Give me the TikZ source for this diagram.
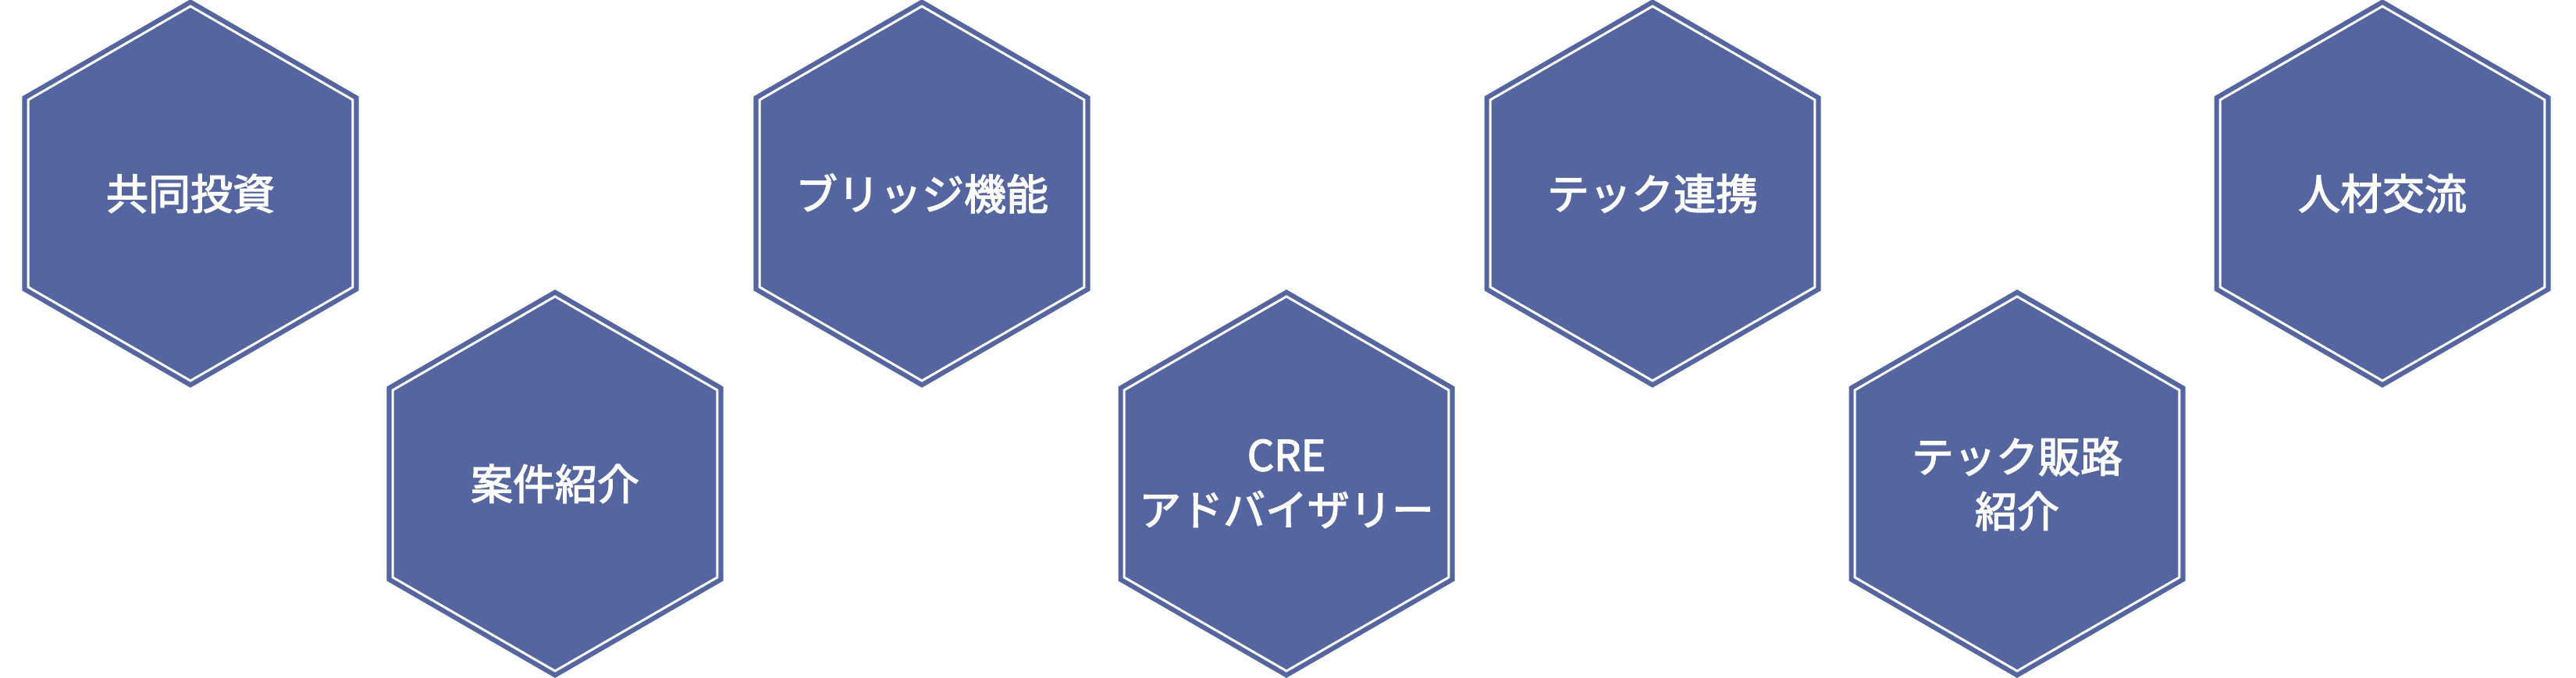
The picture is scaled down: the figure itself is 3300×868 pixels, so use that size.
\documentclass[tikz,border=0pt]{standalone}
\usepackage{fontspec}
\newfontfamily\cjk{Noto Sans CJK JP}[FakeBold=2.5]
\definecolor{hexblue}{HTML}{5565A0}
\newcommand{\hexpath}[3]{(#1,#2-#3) -- (#1+0.866*#3,#2-0.5*#3) -- (#1+0.866*#3,#2+0.5*#3) -- (#1,#2+#3) -- (#1-0.866*#3,#2+0.5*#3) -- (#1-0.866*#3,#2-0.5*#3) -- cycle}
\newcommand{\hexat}[4]{%
  \fill[hexblue,draw=hexblue,line width=1.5pt] \hexpath{#1}{#2}{248};
  \draw[white,line width=3pt] \hexpath{#1}{#2}{240};
  \node[hextext] (#3) at (#1,#2) {#4};}
\begin{document}
\begin{tikzpicture}[x=1pt,y=-1pt,
  hextext/.style={font=\cjk\fontsize{54}{70}\selectfont,text=white,align=center,inner sep=0pt}]
\useasboundingbox (0,0) rectangle (3300,868);
\hexat{244}{248}{a}{共同投資}
\hexat{711}{620}{b}{案件紹介}
\hexat{1181}{248}{c}{ブリッジ機能}
\hexat{1648}{620}{d}{CRE\\アドバイザリー}
\hexat{2117}{248}{e}{テック連携}
\hexat{2584}{620}{f}{テック販路\\紹介}
\hexat{3052}{248}{g}{人材交流}
\end{tikzpicture}
\end{document}
